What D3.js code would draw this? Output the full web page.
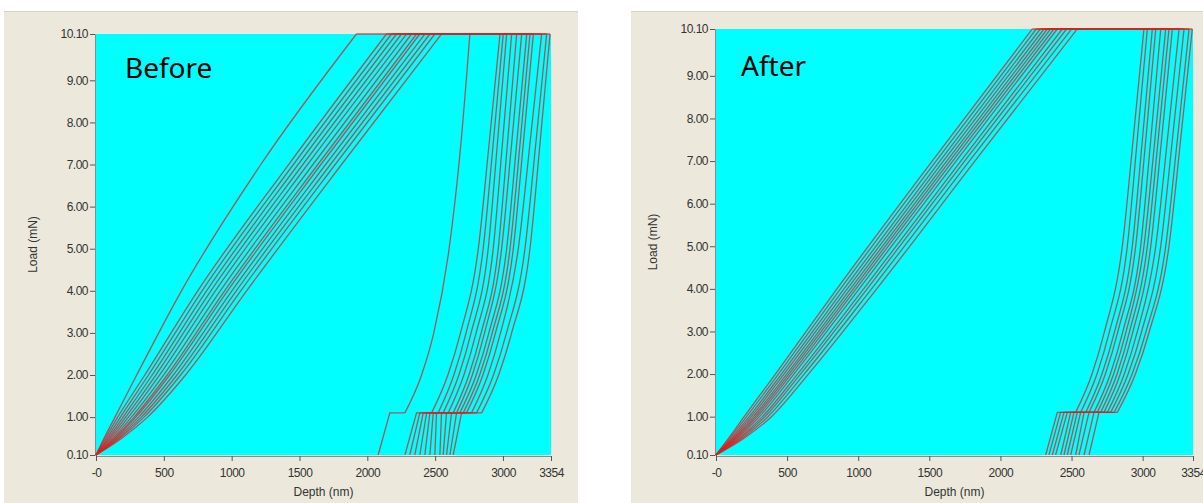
<!DOCTYPE html>
<html>
<head>
<meta charset="utf-8">
<script src="https://cdn.jsdelivr.net/npm/d3@7"></script>
<style>
  body { margin: 0; background: #fff; }
  .tick text { font-family: "Liberation Sans", Arial, sans-serif; font-size: 12px; fill: #333; letter-spacing: -0.5px; }
  .tick line { stroke: #555; }
  .domain { stroke: #8a8a8a; }
</style>
</head>
<body>
<script>
// Tick values and labels
const loadTicks = [0.1, 1, 2, 3, 4, 5, 6, 7, 8, 9, 10.1]
const depthTicks = [0, 500, 1000, 1500, 2000, 2500, 3000, 3354]

const loadLevels = [0.1, 0.5, 1, 2, 4, 7, 10.1]
const unloadLevels = [10.1, 7.5, 5, 3, 2, 1.1]
const holdLow = 1.1

// Before: loading branch, depth (nm) at each loadLevels value
const beforeLoading = [
    [0, 60, 140, 300, 630, 1215, 1920],
    [0, 70, 160, 360, 750, 1420, 2141],
    [0, 81, 180, 387, 782, 1455, 2178],
    [0, 92, 200, 414, 815, 1490, 2215],
    [0, 102, 219, 441, 847, 1525, 2252],
    [0, 113, 239, 468, 880, 1560, 2289],
    [0, 125, 261, 498, 916, 1599, 2326],
    [0, 136, 281, 525, 948, 1635, 2363],
    [0, 143, 294, 543, 970, 1658, 2387],
    [0, 154, 314, 570, 1002, 1693, 2424],
    [0, 165, 334, 597, 1034, 1728, 2461],
    [0, 176, 354, 624, 1067, 1763, 2498],
    [0, 190, 380, 660, 1110, 1810, 2547]
]
// Before: unloading branch, depth at each unloadLevels value
const beforeUnloading = [
    [2756, 2690, 2603, 2490, 2400, 2277],
    [2978, 2898, 2818, 2687, 2594, 2474],
    [3002, 2928, 2854, 2728, 2638, 2522],
    [3027, 2959, 2891, 2765, 2675, 2559],
    [3064, 2996, 2928, 2802, 2712, 2596],
    [3101, 3033, 2965, 2839, 2749, 2633],
    [3138, 3064, 2990, 2864, 2774, 2658],
    [3175, 3101, 3027, 2896, 2803, 2682],
    [3199, 3126, 3052, 2921, 2828, 2707],
    [3224, 3150, 3076, 2945, 2852, 2731],
    [3285, 3199, 3113, 2982, 2889, 2768],
    [3322, 3242, 3162, 3026, 2930, 2805],
    [3347, 3273, 3199, 3064, 2968, 2843]
]
// Before: depth at the end of the low-load hold, and final depth at 0.1 mN
const beforeHoldEnd = [2166, 2363, 2387, 2412, 2437, 2461, 2486, 2510, 2547, 2584, 2621, 2658, 2695]
const beforeFinal = [2080, 2277, 2313, 2350, 2387, 2424, 2461, 2498, 2535, 2559, 2584, 2609, 2633]

// After
const afterLoading = [
    [0, 90, 198, 418, 850, 1520, 2224],
    [0, 100, 215, 439, 875, 1547, 2252],
    [0, 110, 233, 460, 900, 1574, 2280],
    [0, 119, 248, 478, 923, 1598, 2306],
    [0, 127, 263, 497, 945, 1622, 2330],
    [0, 135, 277, 513, 965, 1643, 2353],
    [0, 143, 290, 529, 984, 1664, 2376],
    [0, 152, 306, 548, 1007, 1688, 2400],
    [0, 164, 327, 573, 1038, 1721, 2435],
    [0, 174, 344, 594, 1063, 1748, 2465],
    [0, 186, 365, 620, 1094, 1781, 2500],
    [0, 200, 390, 650, 1130, 1820, 2540]
]
const afterUnloading = [
    [3009, 2933, 2857, 2732, 2644, 2529],
    [3033, 2962, 2892, 2767, 2679, 2564],
    [3068, 2998, 2927, 2803, 2714, 2600],
    [3092, 3022, 2951, 2826, 2738, 2623],
    [3127, 3057, 2986, 2861, 2773, 2658],
    [3162, 3086, 3009, 2884, 2796, 2681],
    [3185, 3109, 3033, 2908, 2820, 2705],
    [3209, 3133, 3057, 2932, 2843, 2728],
    [3256, 3174, 3092, 2963, 2871, 2752],
    [3291, 3209, 3127, 2993, 2898, 2775],
    [3326, 3244, 3162, 3024, 2926, 2799],
    [3349, 3267, 3185, 3047, 2949, 2822]
]
const afterHoldEnd = [2400, 2423, 2447, 2470, 2494, 2517, 2540, 2564, 2588, 2623, 2658, 2693]
const afterFinal = [2318, 2341, 2365, 2388, 2424, 2447, 2470, 2494, 2529, 2552, 2588, 2623]

const svg = d3.select('body')
    .append('svg')
        .attr('width', 1203)
        .attr('height', 503)

const panels = [
    {title: 'Before', loading: beforeLoading, unloading: beforeUnloading, holdEnd: beforeHoldEnd, fin: beforeFinal,
     bg: [4, 11, 574, 492], plot: {left: 96, right: 551, top: 34, bottom: 455},
     titleAt: [125, 78], yLabelX: 33, xLabelY: 496},
    {title: 'After', loading: afterLoading, unloading: afterUnloading, holdEnd: afterHoldEnd, fin: afterFinal,
     bg: [631, 11, 572, 492], plot: {left: 716, right: 1193, top: 29, bottom: 455},
     titleAt: [741, 76], yLabelX: 653, xLabelY: 496}
]

panels.forEach(p => {
    // window background
    svg.append('rect')
        .attr('x', p.bg[0]).attr('y', p.bg[1])
        .attr('width', p.bg[2]).attr('height', p.bg[3])
        .attr('fill', '#ece9dc')
    svg.append('line')
        .attr('x1', p.bg[0]).attr('x2', p.bg[0] + p.bg[2])
        .attr('y1', p.bg[1] + 0.5).attr('y2', p.bg[1] + 0.5)
        .attr('stroke', '#d6d2c4')

    const x = d3.scaleLinear().domain([0, 3354]).range([p.plot.left, p.plot.right])
    const y = d3.scaleLinear().domain([0.1, 10.1]).range([p.plot.bottom, p.plot.top])

    svg.append('rect')
        .attr('x', p.plot.left).attr('y', p.plot.top)
        .attr('width', p.plot.right - p.plot.left)
        .attr('height', p.plot.bottom - p.plot.top)
        .attr('fill', '#00ffff')

    // axes
    svg.append('g')
        .attr('transform', `translate(${p.plot.left - 1}, 0)`)
        .call(d3.axisLeft(y).tickValues(loadTicks).tickFormat(d => d.toFixed(2)).tickSizeOuter(0).tickSize(5).tickPadding(2))
    svg.append('g')
        .attr('transform', `translate(0, ${p.plot.bottom + 1})`)
        .call(d3.axisBottom(x).tickValues(depthTicks).tickFormat(d => d === 0 ? '-0' : d).tickSizeOuter(0).tickSize(5).tickPadding(7))

    // axis titles
    svg.append('text')
        .attr('transform', `translate(${p.yLabelX}, ${(p.plot.top + p.plot.bottom) / 2}) rotate(-90)`)
        .attr('text-anchor', 'middle')
        .attr('dy', '0.35em')
        .style('font', '12px "Liberation Sans", Arial, sans-serif')
        .attr('fill', '#333')
        .text('Load (mN)')
    svg.append('text')
        .attr('x', (p.plot.left + p.plot.right) / 2)
        .attr('y', p.xLabelY)
        .attr('text-anchor', 'middle')
        .style('font', '12px "Liberation Sans", Arial, sans-serif')
        .attr('fill', '#333')
        .text('Depth (nm)')

    // curves
    const smooth = d3.line().x(d => x(d[0])).y(d => y(d[1])).curve(d3.curveMonotoneX)
    const straight = d3.line().x(d => x(d[0])).y(d => y(d[1]))

    p.loading.forEach((ld, i) => {
        const ul = p.unloading[i]
        const load = ld.map((h, j) => [h, loadLevels[j]])
        const unload = ul.map((h, j) => [h, unloadLevels[j]]).reverse()
        const d = smooth(load)
            + straight([[ld[ld.length - 1], 10.1], [ul[0], 10.1]])
            + smooth(unload)
            + straight([[ul[ul.length - 1], holdLow], [p.holdEnd[i], holdLow], [p.fin[i], 0.1]])
        svg.append('path')
            .attr('d', d)
            .attr('fill', 'none')
            .attr('stroke', '#d82020')
            .attr('stroke-opacity', 0.75)
            .attr('stroke-width', 1.3)
    })

    svg.append('text')
        .attr('x', p.titleAt[0]).attr('y', p.titleAt[1])
        .style('font', '28px "Noto Sans", "Open Sans", sans-serif')
        .attr('fill', '#000')
        .text(p.title)
})
</script>
</body>
</html>
